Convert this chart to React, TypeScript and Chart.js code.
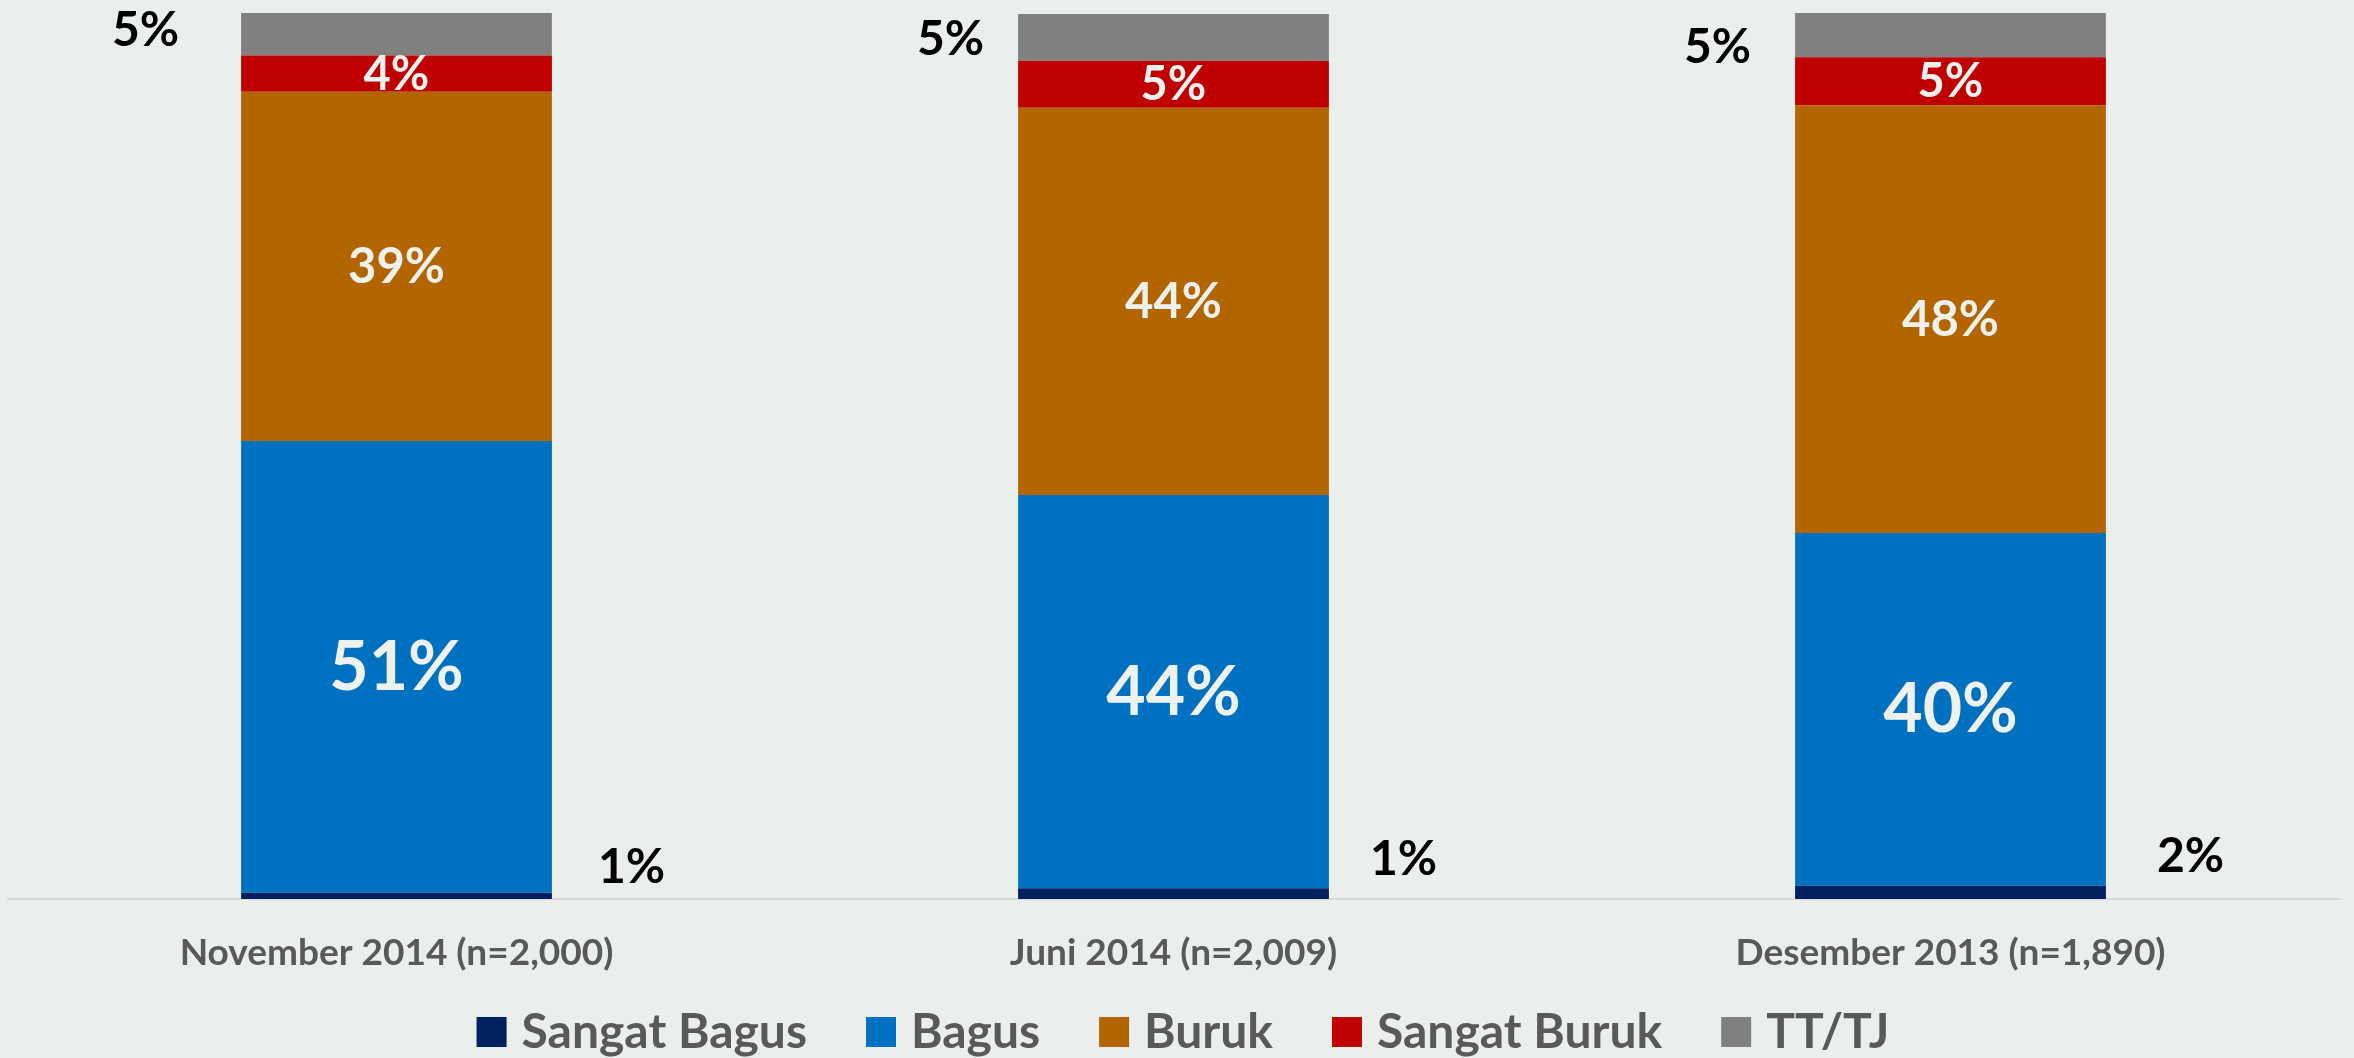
import React, { useEffect, useRef } from "react";
import { Chart, registerables } from "chart.js";

Chart.register(...registerables);

const categories = ["November 2014 (n=2,000)", "Juni 2014 (n=2,009)", "Desember 2013 (n=1,890)"];
const seriesNames = ["Sangat Bagus", "Bagus", "Buruk", "Sangat Buruk", "TT/TJ"];
const sangatBagus = [0.7, 1.2, 1.5];
const bagus = [51.0, 44.4, 39.8];
const buruk = [39.4, 43.7, 48.3];
const sangatBuruk = [4.1, 5.3, 5.4];
const ttTj = [4.9, 5.3, 5.0];
const seriesColors = ["#002060", "#0070C0", "#B36600", "#C00000", "#808080"];

const W = 2354;
const H = 1058;
const BG = "#EAEFEB";
const FONT = "Lato";

// label placement tweaks relative to bar edges / segment centers
const topLabelOffsets = [
  { gap: 62, dy: -3 },
  { gap: 34, dy: 2 },
  { gap: 44, dy: 12 },
];
const bottomLabelOffsets = [
  { gap: 46, up: 31 },
  { gap: 41, up: 39 },
  { gap: 51, up: 42 },
];

const labelPlugin = {
  id: "segLabels",
  afterDatasetsDraw(chart: any) {
    const ctx = chart.ctx;
    ctx.save();
    chart.data.datasets.forEach((ds: any, di: number) => {
      const meta = chart.getDatasetMeta(di);
      meta.data.forEach((el: any, j: number) => {
        const p = el.getProps(["x", "y", "base", "width"], true);
        const txt = Math.round(ds.data[j]) + "%";
        const cy = (p.y + p.base) / 2;
        ctx.textBaseline = "middle";
        if (di === 0) {
          const o = bottomLabelOffsets[j];
          ctx.font = `bold 48px ${FONT}`;
          ctx.fillStyle = "#000000";
          ctx.textAlign = "left";
          ctx.fillText(txt, p.x + p.width / 2 + o.gap, p.base - o.up);
        } else if (di === 4) {
          const o = topLabelOffsets[j];
          ctx.font = `bold 48px ${FONT}`;
          ctx.fillStyle = "#000000";
          ctx.textAlign = "right";
          ctx.fillText(txt, p.x - p.width / 2 - o.gap, cy + o.dy);
        } else {
          const size = di === 1 ? 68 : di === 2 ? 49 : 47;
          ctx.font = `bold ${size}px ${FONT}`;
          ctx.fillStyle = "#EEF2EF";
          ctx.textAlign = "center";
          ctx.fillText(txt, p.x, cy + 1);
        }
      });
    });
    ctx.restore();
  },
};

const legendPlugin = {
  id: "customLegend",
  afterDraw(chart: any) {
    const ctx = chart.ctx;
    const box = 30;
    const gapBoxText = 15;
    const gapItems = 59;
    const cy = 1032;
    ctx.save();
    ctx.font = `bold 48px ${FONT}`;
    const widths = chart.data.datasets.map((d: any) => ctx.measureText(d.label).width);
    const total =
      widths.reduce((a: number, b: number) => a + b, 0) +
      widths.length * (box + gapBoxText) +
      (widths.length - 1) * gapItems;
    let x = chart.width / 2 - total / 2 + 6;
    chart.data.datasets.forEach((d: any, i: number) => {
      ctx.fillStyle = d.backgroundColor;
      ctx.fillRect(x, cy - box / 2, box, box);
      x += box + gapBoxText;
      ctx.fillStyle = "#595959";
      ctx.textAlign = "left";
      ctx.textBaseline = "middle";
      ctx.fillText(d.label, x, cy + 1);
      x += widths[i] + gapItems;
    });
    ctx.restore();
  },
};

export default function App() {
  const canvasRef = useRef<HTMLCanvasElement | null>(null);

  useEffect(() => {
    document.body.style.margin = "0";
    document.body.style.background = BG;
    let chart: Chart | null = null;
    let cancelled = false;
    const make = () => {
      if (cancelled || !canvasRef.current) return;
      const seriesData = [sangatBagus, bagus, buruk, sangatBuruk, ttTj];
      chart = new Chart(canvasRef.current, {
        type: "bar",
        data: {
          labels: categories,
          datasets: seriesNames.map((name, i) => ({
            label: name,
            data: seriesData[i],
            backgroundColor: seriesColors[i],
            borderWidth: 0,
            barPercentage: 0.8,
            categoryPercentage: 0.5,
          })),
        },
        options: {
          responsive: false,
          animation: false,
          layout: { padding: { left: 8, right: 15, top: 13, bottom: 50.6 } },
          plugins: { legend: { display: false }, tooltip: { enabled: false } },
          scales: {
            x: {
              stacked: true,
              grid: { display: false, drawTicks: false },
              border: { display: true, color: "#D9D9D9", width: 2 },
              ticks: {
                color: "#595959",
                font: { family: FONT, size: 37, weight: "bold" },
                padding: 32,
              },
            },
            y: {
              stacked: true,
              display: false,
              min: 0,
              max: 100,
            },
          },
        },
        plugins: [labelPlugin, legendPlugin],
      });
    };
    const fontsReady = (document as any).fonts
      ? Promise.all([
          (document as any).fonts.load(`bold 40px ${FONT}`),
        ]).catch(() => null)
      : Promise.resolve(null);
    fontsReady.then(make);
    return () => {
      cancelled = true;
      if (chart) chart.destroy();
    };
  }, []);

  return (
    <div style={{ position: "absolute", left: 0, top: 0, width: W, height: H, background: BG, overflow: "hidden" }}>
      <canvas ref={canvasRef} width={W} height={H} style={{ display: "block", width: W, height: H }} />
    </div>
  );
}
